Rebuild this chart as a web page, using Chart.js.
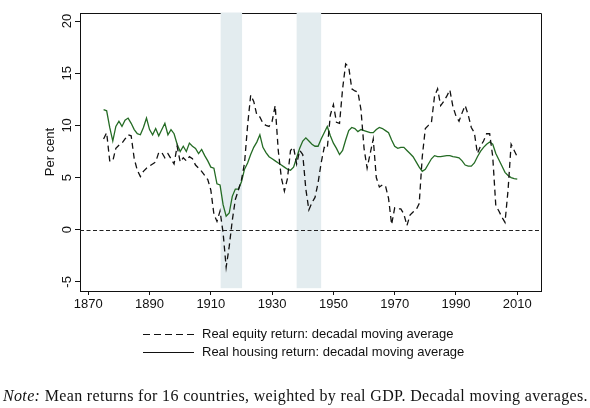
<!DOCTYPE html>
<html>
<head>
<meta charset="utf-8">
<script src="https://cdn.jsdelivr.net/npm/chart.js@4.4.1/dist/chart.umd.min.js"></script>
<style>
  html, body { margin: 0; padding: 0; background: #fff; }
  #wrap { position: relative; width: 590px; height: 408px; overflow: hidden; }
  #returnsChart { position: absolute; left: 0; top: 0; }
  .leg { position: absolute; left: 143px; height: 18px; line-height: 18px; white-space: nowrap;
         font-family: "Liberation Sans", Arial, sans-serif; font-size: 13px; color: #111; }
  .leg svg { vertical-align: top; margin-right: 8px; }
  #note { position: absolute; left: 3px; top: 386px; line-height: 20px; white-space: nowrap;
          font-family: "Liberation Serif", "Times New Roman", serif; font-size: 16px;
          letter-spacing: 0.35px; color: #111; }
</style>
</head>
<body>
<div id="wrap">
  <canvas id="returnsChart" width="590" height="408"></canvas>
  <div class="leg" style="top:325px">
    <svg width="51" height="18"><line x1="0" y1="9.5" x2="51" y2="9.5" stroke="#111" stroke-width="1.2" stroke-dasharray="7 4"/></svg>Real equity return: decadal moving average
  </div>
  <div class="leg" style="top:343px">
    <svg width="51" height="18"><line x1="0" y1="9.5" x2="51" y2="9.5" stroke="#111" stroke-width="1.2"/></svg>Real housing return: decadal moving average
  </div>
  <div id="note"><i>Note:</i> Mean returns for 16 countries, weighted by real GDP. Decadal moving averages.</div>
</div>
<script>
// primeiro ano das médias móveis (1875 ... 2010)
const firstYear = 1875;

// retorno real das ações, média móvel decenal (%)
const equityReturn = [
  8.7, 9.3, 6.6, 6.6, 7.8,
  8.1, 8.3, 8.7, 9.1, 9.0, 6.8, 5.7, 5.1, 5.6, 5.9,
  6.1, 6.3, 6.5, 7.4, 7.4, 6.9, 7.3, 6.8, 6.3, 8.0,
  6.5, 6.9, 6.6, 7.0, 6.8, 6.2, 5.9, 5.6, 5.2, 4.8,
  3.8, 1.5, 0.8, 1.8, -0.3, -3.6, -1.6, 0.9, 2.9, 3.8,
  4.8, 6.4, 10.0, 12.9, 12.3, 11.0, 10.8, 10.2, 10.0, 9.9,
  10.4, 11.9, 7.6, 5.0, 3.7, 4.9, 7.6, 7.9, 6.3, 7.6,
  7.2, 3.9, 1.9, 2.6, 3.1, 4.5, 6.4, 7.9, 7.8, 11.0,
  12.0, 10.3, 10.2, 13.5, 15.9, 15.6, 13.5, 13.3, 13.2, 11.5,
  7.8, 5.9, 7.3, 8.7, 5.0, 4.1, 4.3, 4.2, 3.0, 0.5,
  2.1, 2.0, 2.0, 1.5, 0.4, 1.4, 1.7, 1.9, 2.5, 7.0,
  9.7, 10.0, 10.3, 12.8, 13.5, 11.9, 12.3, 12.8, 13.4, 11.8,
  10.9, 10.4, 11.2, 11.9, 11.0, 9.8, 9.3, 7.3, 8.0, 8.5,
  9.2, 9.2, 7.0, 2.3, 1.8, 1.2, 0.7, 3.8, 8.2, 7.6,
  7.0
];

// retorno real da habitação, média móvel decenal (%)
const housingReturn = [
  11.5, 11.4, 9.8, 8.5, 9.9,
  10.4, 9.9, 10.5, 10.7, 10.2, 9.6, 9.2, 9.1, 9.8, 10.7,
  9.6, 9.1, 9.7, 9.0, 9.6, 10.2, 9.1, 9.6, 9.2, 8.2,
  7.5, 8.0, 7.5, 8.3, 8.0, 7.8, 7.3, 7.7, 7.1, 6.6,
  6.0, 5.9, 4.4, 4.3, 2.4, 1.3, 1.6, 3.2, 3.9, 3.9,
  4.6, 5.8, 6.4, 7.2, 7.9, 8.4, 9.1, 7.9, 7.4, 7.0,
  6.8, 6.6, 6.4, 6.2, 6.0, 5.8, 5.7, 6.0, 6.9, 7.8,
  8.5, 8.8, 8.5, 8.2, 8.0, 8.0, 8.7, 9.3, 9.9, 9.0,
  8.3, 7.8, 7.2, 7.6, 8.6, 9.5, 9.8, 9.7, 9.4, 9.6,
  9.5, 9.4, 9.3, 9.3, 9.6, 9.8, 9.7, 9.5, 9.3, 8.6,
  8.0, 7.8, 7.9, 7.9, 7.6, 7.3, 7.0, 6.5, 6.0, 5.6,
  5.8, 6.3, 6.8, 7.1, 7.0, 7.0, 7.05, 7.1, 7.1, 7.0,
  6.95, 6.9, 6.6, 6.2, 6.1, 6.1, 6.4, 7.0, 7.5, 7.9,
  8.2, 8.4, 8.2, 7.3, 6.7, 6.1, 5.5, 5.2, 5.0, 4.9,
  4.85
];

// rótulos dos eixos
const xTickYears = [1870, 1890, 1910, 1930, 1950, 1970, 1990, 2010];
const yTickValues = [-5, 0, 5, 10, 15, 20];

// faixas sombreadas (guerras mundiais)
const warStart = [1913.2, 1938.0];
const warEnd = [1920.2, 1946.0];

const bandFloor = -5.6;
const tickFont = '13px "Liberation Sans", Arial, sans-serif';

// moldura, faixas e linha do zero
const framePlugin = {
    id: 'framePlugin',
    beforeDatasetsDraw(chart) {
        const { ctx, chartArea, scales } = chart;
        const { left, right, top, bottom } = chartArea;
        ctx.save();
        ctx.strokeStyle = '#111';
        ctx.lineWidth = 1;
        ctx.beginPath();
        ctx.moveTo(left, top + 0.5);
        ctx.lineTo(right + 0.5, top + 0.5);
        ctx.lineTo(right + 0.5, bottom);
        ctx.stroke();

        ctx.fillStyle = '#e3ecef';
        const yFloor = scales.y.getPixelForValue(bandFloor);
        warStart.forEach((s, i) => {
            const x1 = scales.x.getPixelForValue(s);
            const x2 = scales.x.getPixelForValue(warEnd[i]);
            ctx.fillRect(x1, top - 0.5, x2 - x1, yFloor - top + 0.5);
        });

        const y0 = Math.round(scales.y.getPixelForValue(0)) + 0.5;
        ctx.setLineDash([4, 2.5]);
        ctx.strokeStyle = '#222';
        ctx.beginPath();
        ctx.moveTo(left, y0);
        ctx.lineTo(right, y0);
        ctx.stroke();
        ctx.restore();
    },
    afterDraw(chart) {
        // rótulos do eixo y girados (estilo Stata)
        const { ctx, scales } = chart;
        ctx.save();
        ctx.font = tickFont;
        ctx.fillStyle = '#111';
        ctx.textAlign = 'center';
        ctx.textBaseline = 'middle';
        yTickValues.forEach(v => {
            const y = scales.y.getPixelForValue(v);
            ctx.save();
            ctx.translate(67, y);
            ctx.rotate(-Math.PI / 2);
            ctx.fillText(String(v), 0, 0);
            ctx.restore();
        });
        ctx.restore();
    }
};

const ctx = document.getElementById('returnsChart').getContext('2d');

new Chart(ctx, {
    type: 'line',
    data: {
        datasets: [{
            label: 'Real equity return: decadal moving average',
            data: equityReturn.map((v, i) => ({ x: firstYear + i, y: v })),
            borderColor: '#111',
            borderWidth: 1.3,
            borderDash: [6, 4],
            pointRadius: 0,
            tension: 0,
            fill: false
        }, {
            label: 'Real housing return: decadal moving average',
            data: housingReturn.map((v, i) => ({ x: firstYear + i, y: v })),
            borderColor: '#246b24',
            borderWidth: 1.3,
            pointRadius: 0,
            tension: 0,
            fill: false
        }]
    },
    options: {
        responsive: false,
        animation: false,
        layout: { padding: { left: 0, right: 49, top: 13, bottom: 89 } },
        plugins: {
            legend: { display: false },
            tooltip: { enabled: false }
        },
        scales: {
            x: {
                type: 'linear',
                min: 1867.3,
                max: 2017.75,
                afterBuildTicks: s => { s.ticks = xTickYears.map(v => ({ value: v })); },
                afterFit: s => { s.height = 28; },
                grid: { drawOnChartArea: false, drawTicks: true, tickLength: 4, tickColor: '#111' },
                border: { color: '#111', width: 1 },
                ticks: {
                    padding: 2,
                    maxRotation: 0,
                    color: '#111',
                    font: { family: '"Liberation Sans", Arial, sans-serif', size: 13 },
                    callback: v => String(v)
                }
            },
            y: {
                type: 'linear',
                min: -5.87,
                max: 20.77,
                afterBuildTicks: s => { s.ticks = yTickValues.map(v => ({ value: v })); },
                afterFit: s => { s.width = 80; },
                grid: { drawOnChartArea: false, drawTicks: true, tickLength: 5, tickColor: '#111' },
                border: { color: '#111', width: 1 },
                ticks: { display: false },
                title: {
                    display: true,
                    text: 'Per cent',
                    color: '#111',
                    padding: { top: 43, bottom: 0 },
                    font: { family: '"Liberation Sans", Arial, sans-serif', size: 13 }
                }
            }
        }
    },
    plugins: [framePlugin]
});
</script>
</body>
</html>
